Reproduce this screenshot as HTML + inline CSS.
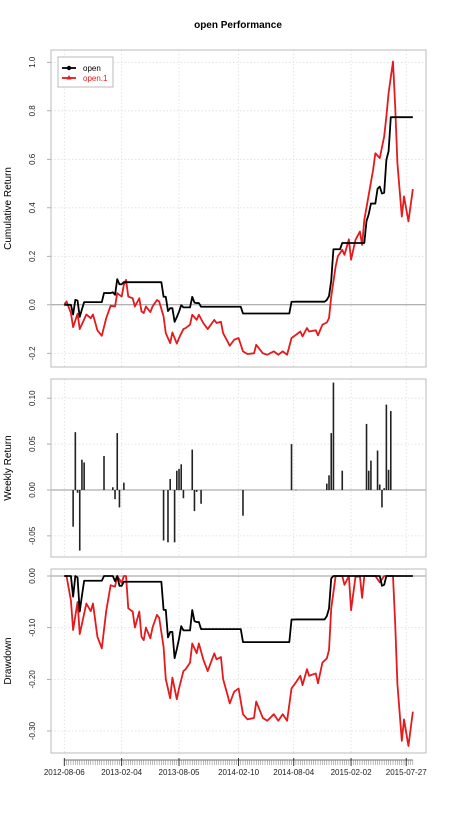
<!DOCTYPE html>
<html><head><meta charset="utf-8"><style>
html,body{margin:0;padding:0;background:#fff}
svg text{font-family:"Liberation Sans",sans-serif}
</style></head><body>
<svg id="chart" width="452" height="817" viewBox="0 0 452 817" xmlns="http://www.w3.org/2000/svg">
<text x="238" y="28" text-anchor="middle" font-size="10" font-weight="bold">open Performance</text>
</svg>
<script>
// ---- data ----
const dateLabels = ["2012-08-06","2013-02-04","2013-08-05","2014-02-10","2014-08-04","2015-02-02","2015-07-27"];
const dateLabelWeeks = [0,26,52,79,104,130,155];
const nWeeks = 159;
// weekly returns of "open" (week index -> return)
const openRetWeeks = [4,5,6,7,8,9,18,22,23,24,25,27,45,47,48,50,51,52,53,54,58,59,60,62,81,103,105,119,120,121,122,126,137,138,139,142,143,144,145,146,147,148];
const openRetValues = [-0.040,0.063,-0.003,-0.066,0.033,0.030,0.037,0.003,-0.010,0.062,-0.019,0.008,-0.055,-0.057,0.012,-0.057,0.021,0.023,0.028,-0.009,0.044,-0.023,-0.002,-0.015,-0.028,0.050,0.0003,0.007,0.016,0.062,0.117,0.021,0.072,0.021,0.032,0.043,0.006,-0.019,0.002,0.093,0.022,0.086];
// cumulative return of "open.1"
const redWeeks = [0,1,3,4,6,7,9,10,12,13,15,17,19,21,23,24,26,27,28,29,31,32,34,35,36,37,39,40,42,43,45,46,48,49,51,52,54,55,57,58,60,61,63,65,68,69,71,72,74,75,77,79,81,83,86,87,90,92,95,97,99,101,103,105,107,108,110,111,114,115,117,119,120,121,123,124,126,127,129,130,132,134,135,136,138,140,141,143,145,146,147,149,150,151,153,154,156,158];
const redCum = [0,0.014,-0.034,-0.092,-0.037,-0.10,-0.06,-0.04,-0.055,-0.04,-0.105,-0.128,-0.055,-0.004,-0.007,0.048,0.034,0.082,0.103,0.034,0.027,-0.007,0.027,-0.027,-0.034,-0.007,-0.03,-0.007,0.02,0.014,-0.048,-0.117,-0.158,-0.114,-0.16,-0.137,-0.10,-0.096,-0.082,-0.041,-0.062,-0.041,-0.075,-0.10,-0.062,-0.075,-0.07,-0.117,-0.151,-0.169,-0.144,-0.137,-0.192,-0.203,-0.2,-0.165,-0.2,-0.206,-0.192,-0.206,-0.192,-0.206,-0.137,-0.124,-0.11,-0.13,-0.096,-0.11,-0.105,-0.126,-0.082,-0.073,-0.055,0.034,0.158,0.2,0.227,0.206,0.27,0.186,0.268,0.302,0.247,0.35,0.454,0.557,0.625,0.605,0.694,0.777,0.873,1.003,0.818,0.584,0.364,0.447,0.344,0.477];
const cumTicks = [1.0,0.8,0.6,0.4,0.2,0.0,-0.2];
const retTicks = [0.10,0.05,0.00,-0.05];
const ddTicks = [0.00,-0.10,-0.20,-0.30];

// ---- helpers ----
const svg = document.getElementById('chart');
const NS = 'http://www.w3.org/2000/svg';
function mk(tag, attrs, parent){const e=document.createElementNS(NS,tag);for(const k in attrs)e.setAttribute(k,attrs[k]);(parent||svg).appendChild(e);return e;}
const X = w => 64.3 + w*2.206;
const L=51, R=426;
const panels = [
  {name:'cumulative', top:50, bottom:367, y:v=>304.8 - v*242.5, ticks:cumTicks, fmt:v=>v.toFixed(1), label:'Cumulative Return'},
  {name:'weekly', top:379, bottom:557, y:v=>490 - v*918, ticks:retTicks, fmt:v=>v.toFixed(2), label:'Weekly Return'},
  {name:'drawdown', top:569, bottom:753, y:v=>576 - v*516.7, ticks:ddTicks, fmt:v=>v.toFixed(2), label:'Drawdown'}
];

// derived series
const openRet = new Array(nWeeks).fill(0);
openRetWeeks.forEach((w,i)=>openRet[w]=openRetValues[i]);
const openCum=[]; let g=1;
for(let i=0;i<nWeeks;i++){g*=1+openRet[i];openCum.push(g-1);}
function dd(vals){let m=1;return vals.map(c=>{const v=1+c;m=Math.max(m,v);return v/m-1;});}
const openDD = dd(openCum), redDD = dd(redCum);

panels.forEach(p=>{
  const grp = mk('g',{});
  
  
  dateLabelWeeks.forEach(w=>{
    const gl = mk('line',{x1:X(w),x2:X(w),y1:p.top,y2:p.bottom,stroke:'#ddd','stroke-width':0.8,'stroke-dasharray':'1.5,2'},grp);
    
    
  });
  p.ticks.forEach(t=>{
    const y=p.y(t);
    if(Math.abs(t)>1e-9){
      const gl = mk('line',{x1:L,x2:R,y1:y,y2:y,stroke:'#ddd','stroke-width':0.8,'stroke-dasharray':'1.5,2'},grp);
      
      
    }
    mk('line',{x1:L-4,x2:L,y1:y,y2:y,stroke:'#999','stroke-width':0.8},grp);
    const tx = mk('text',{x:35,y:y,'font-size':8,'text-anchor':'middle',fill:'#222',transform:`rotate(-90 35 ${y})`},grp);
    tx.textContent=p.fmt(t);
    
    
  });
  const z = mk('line',{x1:L,x2:R,y1:p.y(0),y2:p.y(0),stroke:'#999','stroke-width':1},grp);
  
  
  const bx = mk('rect',{x:L,y:p.top,width:R-L,height:p.bottom-p.top,fill:'none',stroke:'#bbb','stroke-width':1},grp);
  
  
  const cy=(p.top+p.bottom)/2;
  const yl = mk('text',{x:11,y:cy,'font-size':10,'text-anchor':'middle',transform:`rotate(-90 11 ${cy})`},grp);
  yl.textContent=p.label;
  
  
  p.g=grp;
});

function line(ws, vals, p, color, name){
  const pts = vals.map((v,i)=>X(ws?ws[i]:i).toFixed(2)+','+p.y(v).toFixed(2)).join(' ');
  const e = mk('polyline',{points:pts,fill:'none',stroke:color,'stroke-width':1.8,'stroke-linejoin':'round'},p.g);
  
  
}
line(redWeeks, redCum, panels[0], '#e41a1c', 'open1-cumulative-line');
line(null, openCum, panels[0], '#000', 'open-cumulative-line');
openRetWeeks.forEach((w,i)=>{
  const v=openRetValues[i], p=panels[1];
  const y0=p.y(0), y1=p.y(v);
  const b = mk('rect',{x:X(w)-0.8,y:Math.min(y0,y1),width:1.6,height:Math.max(0.5,Math.abs(y1-y0)),fill:'#222'},p.g);
  
  
});
line(redWeeks, redDD, panels[2], '#e41a1c', 'open1-drawdown-line');
line(null, openDD, panels[2], '#000', 'open-drawdown-line');

// x axis
const ax = mk('g',{});


mk('line',{x1:X(0),x2:X(nWeeks-1),y1:760,y2:760,stroke:'#444','stroke-width':0.8},ax);
for(let w=0;w<nWeeks;w++) mk('line',{x1:X(w),x2:X(w),y1:760,y2:765,stroke:'#777','stroke-width':0.5},ax);
dateLabelWeeks.forEach((w,i)=>{
  mk('line',{x1:X(w),x2:X(w),y1:758,y2:766,stroke:'#222','stroke-width':0.9},ax);
  const t = mk('text',{x:X(w),y:775,'font-size':8,'text-anchor':'middle',fill:'#222'},ax);
  t.textContent=dateLabels[i];
  
  
});

// legend
const lg = mk('g',{});


mk('rect',{x:58,y:57,width:55,height:30,fill:'#fff',stroke:'#bbb','stroke-width':1},lg);
mk('line',{x1:62,x2:76,y1:68,y2:68,stroke:'#000','stroke-width':1.8},lg);
mk('circle',{cx:69,cy:68,r:2.2,fill:'#000'},lg);
const t1=mk('text',{x:83,y:71,'font-size':8},lg); t1.textContent='open';


mk('line',{x1:62,x2:76,y1:78,y2:78,stroke:'#e41a1c','stroke-width':1.8},lg);
mk('polygon',{points:'69,75 66.5,79.5 71.5,79.5',fill:'#e41a1c'},lg);
const t2=mk('text',{x:83,y:81,'font-size':8,fill:'#e41a1c'},lg); t2.textContent='open.1';


</script>
</body></html>
